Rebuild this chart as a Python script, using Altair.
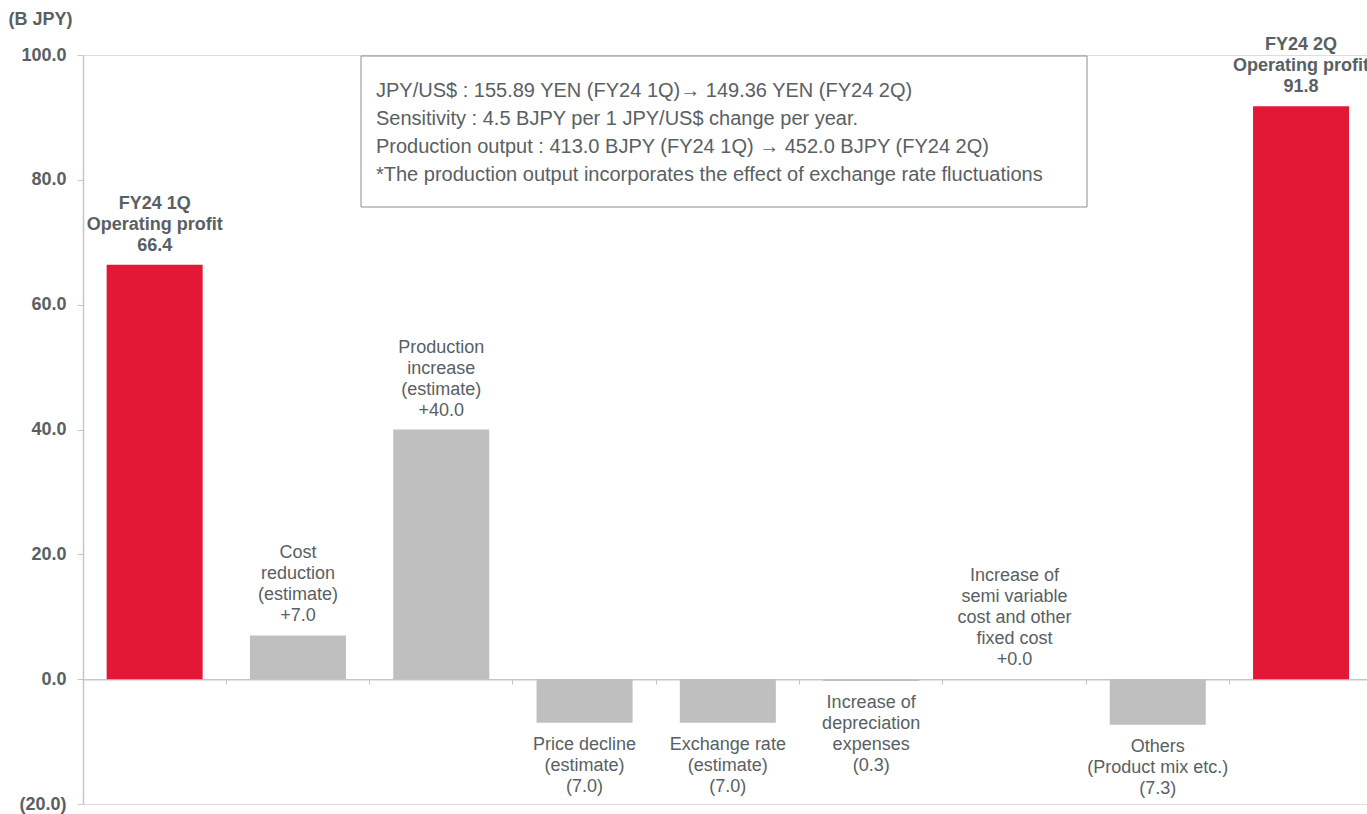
import altair as alt
import pandas as pd

# Operating profit bridge, FY24 1Q -> FY24 2Q (billions of JPY)
categories = ["q1", "cost", "production", "price", "fx", "depreciation",
              "semi_variable", "others", "q2"]
descriptions = [
    "FY24 1Q\nOperating profit",
    "Cost\nreduction\n(estimate)",
    "Production\nincrease\n(estimate)",
    "Price decline\n(estimate)",
    "Exchange rate\n(estimate)",
    "Increase of\ndepreciation\nexpenses",
    "Increase of\nsemi variable\ncost and other\nfixed cost",
    "Others\n(Product mix etc.)",
    "FY24 2Q\nOperating profit",
]
values = [66.4, 7.0, 40.0, -7.0, -7.0, -0.3, 0.0, -7.3, 91.8]
kinds = ["total", "delta", "delta", "delta", "delta", "delta", "delta", "delta", "total"]

y_ticks = [-20, 0, 20, 40, 60, 80, 100]

note_lines = [
    "JPY/US$ : 155.89 YEN (FY24 1Q)\u2192 149.36 YEN (FY24 2Q)",
    "Sensitivity : 4.5 BJPY per 1 JPY/US$ change per year.",
    "Production output : 413.0 BJPY (FY24 1Q) \u2192 452.0 BJPY (FY24 2Q)",
    "*The production output incorporates the effect of exchange rate fluctuations",
]

RED = "#E31837"
GREY = "#BFBFBF"
TEXT = "#596063"
AXIS = "#C6C6C6"
FONT = "Liberation Sans"
LABEL_SIZE = 18
LINE_H = 21


def value_text(v, kind):
    if kind == "total":
        return f"{v:.1f}"
    if v < 0:
        return f"({-v:.1f})"
    return f"+{v:.1f}"


df = pd.DataFrame({
    "cat": categories,
    "value": values,
    "kind": kinds,
    "label": [d + "\n" + value_text(v, k) for d, v, k in zip(descriptions, values, kinds)],
})
df["n_lines"] = df["label"].str.count("\n") + 1

W, H = 1284, 749
STEP = 143.3  # category slot width; the last slot runs past the right edge

x_enc = alt.X(
    "cat:N", sort=categories,
    scale=alt.Scale(paddingInner=0, paddingOuter=0, range=[0, STEP * len(categories)]),
    axis=alt.Axis(labels=False, title=None, bandPosition=0, tickSize=5,
                  tickColor=AXIS, domainColor=AXIS, domainWidth=1.5,
                  offset=-(H * 20 / 120)),
)
# accounting-style tick labels: positives keep a trailing gap where ")" would be
y_label_expr = (
    "datum.value < 0 ? '(' + format(-datum.value, '.1f') + ')'"
    " : format(datum.value, '.1f') + '\u00a0'"
)
y_enc = alt.Y(
    "value:Q",
    scale=alt.Scale(domain=[-20, 100], nice=False, zero=True),
    axis=alt.Axis(
        values=y_ticks, grid=False, tickSize=6, tickColor=AXIS,
        domainColor=AXIS, domainWidth=1.5, labelPadding=11,
        labelFont=FONT, labelFontSize=18, labelFontWeight="bold", labelColor=TEXT,
        labelExpr=y_label_expr,
        title="(B JPY)", titleAngle=0, titleAlign="left", titleBaseline="middle",
        titleX=-75, titleY=-36, titleFont=FONT, titleFontSize=18,
        titleFontWeight="bold", titleColor=TEXT,
    ),
)

base = alt.Chart(df)

bars = base.mark_bar(width={"band": 0.67}).encode(
    x=x_enc,
    y=y_enc,
    color=alt.Color("kind:N", scale=alt.Scale(domain=["total", "delta"], range=[RED, GREY]),
                    legend=None),
)

text_common = dict(font=FONT, fontSize=LABEL_SIZE, lineBreak="\n", lineHeight=LINE_H, color=TEXT)
text_enc = dict(x=alt.X("cat:N", sort=categories), y="value:Q", text="label:N")

# Labels above non-negative bars: multi-line text grows downward from its anchor,
# so lift each group by its line count so the last line sits just above the bar.
label_layers = []
for kind in ["total", "delta"]:
    weight = "bold" if kind == "total" else "normal"
    for n in sorted(df.loc[(df["kind"] == kind) & (df["value"] >= 0), "n_lines"].unique()):
        label_layers.append(
            base.transform_filter(
                f"datum.kind == '{kind}' && datum.value >= 0 && datum.n_lines == {n}"
            ).mark_text(
                baseline="bottom", dy=-10 - (int(n) - 1) * LINE_H, fontWeight=weight, **text_common
            ).encode(**text_enc)
        )

# Labels below negative bars
label_layers.append(
    base.transform_filter("datum.value < 0").mark_text(
        baseline="top", dy=13, **text_common
    ).encode(**text_enc)
)

note_df = pd.DataFrame({"note": ["\n".join(note_lines)]})
note_box = alt.Chart(note_df).mark_rect(fill="white", stroke="#8C8C8C", strokeWidth=1).encode(
    x=alt.value(278), x2=alt.value(1004), y=alt.value(1), y2=alt.value(152)
)
note_text = alt.Chart(note_df).mark_text(
    align="left", baseline="alphabetic", font=FONT, fontSize=20,
    lineBreak="\n", lineHeight=28, color=TEXT,
).encode(x=alt.value(293), y=alt.value(42), text="note:N")

chart = alt.layer(bars, *label_layers, note_box, note_text).properties(
    width=W, height=H,
    autosize=alt.AutoSizeParams(type="none"),
    padding={"left": 83, "top": 55, "right": 0, "bottom": 10},
).configure_view(stroke=None).configure(background="white")

chart.save("out.html", embed_options={"renderer": "svg", "actions": False})
